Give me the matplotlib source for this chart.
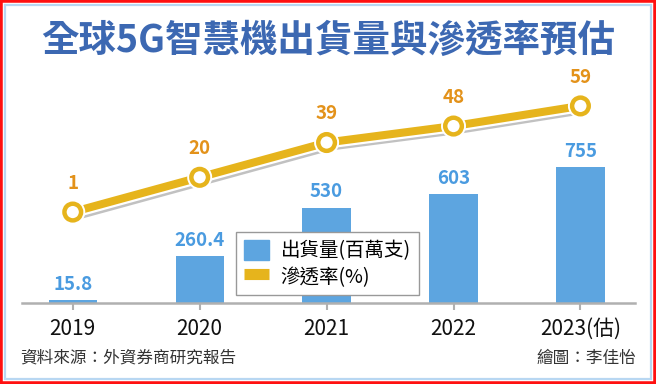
import matplotlib
matplotlib.use("Agg")
import matplotlib.pyplot as plt
import matplotlib.patches as mpatches
import matplotlib.patheffects as pe
from matplotlib.lines import Line2D
import numpy as np

plt.rcParams['font.family'] = ['Noto Sans CJK TC', 'DejaVu Sans']

# data
years     = ['2019', '2020', '2021', '2022', '2023(估)']
shipments = [15.8, 260.4, 530, 603, 755]        # 出貨量 (百萬支)
ship_lbl  = ['15.8', '260.4', '530', '603', '755']
penetr    = [1, 20, 39, 48, 59]                 # 滲透率 (%)

blue   = '#5da5e0'
blue_t = '#4a9be0'
gold   = '#e6b41c'
orange = '#e3921a'
title_c = '#3c68b2'

fig = plt.figure(figsize=(6.56, 3.84), dpi=100)
W, H = 656., 384.

# axes box in pixels: left 22, right 635, top 60, bottom 303
ax = fig.add_axes([22/W, 1-303/H, 613/W, 243/H])
x = np.arange(len(years))
ax.bar(x, shipments, width=0.38, color=blue, zorder=2)
ax.set_xlim(-0.40, 4.43)
ax.set_ylim(0, 1350)
for xi, v, s in zip(x, shipments, ship_lbl):
    ax.text(xi, v + 35, s, ha='center', va='bottom', fontsize=13.5,
            color=blue_t, fontweight='bold')

for sp in ['top', 'left', 'right']:
    ax.spines[sp].set_visible(False)
ax.spines['bottom'].set_color('#b0b0b0')
ax.spines['bottom'].set_linewidth(1.8)
ax.set_yticks([])
ax.set_xticks(x)
ax.set_xticklabels(years, fontsize=15, color='#111')
ax.tick_params(axis='x', length=5, width=1.5, color='#b0b0b0', pad=6)

# penetration line on twin axis
ax2 = ax.twinx()
ax2.set_ylim(-48.7, 84.1)
ax2.set_xlim(ax.get_xlim())
ax2.axis('off')
ax2.plot(x, penetr, color=gold, lw=5.8, solid_capstyle='round', zorder=3,
         path_effects=[pe.SimpleLineShadow(offset=(2, -3), shadow_color='#777', alpha=0.45),
                       pe.Stroke(linewidth=9, foreground='white'), pe.Normal()])
ax2.plot(x, penetr, 'o', ls='none', ms=12, mfc='white', mec=gold, mew=3.2, zorder=4,
         path_effects=[pe.Stroke(linewidth=6, foreground='white'), pe.Normal()])
for xi, v in zip(x, penetr):
    ax2.text(xi, v + 10.5, str(v), ha='center', va='bottom', fontsize=13.5,
             color=orange, fontweight='bold')

# legend
handles = [mpatches.Patch(color=blue),
           Line2D([], [], color=gold, lw=8, solid_capstyle='butt')]
leg = fig.legend(handles, ['出貨量(百萬支)', '滲透率(%)'], loc='upper left',
                 bbox_to_anchor=(236/W, 1-232/H), fontsize=14, frameon=True,
                 fancybox=False, edgecolor='#999999', framealpha=1,
                 handlelength=1.3, handleheight=1.2, handletextpad=0.6,
                 labelspacing=0.25, borderpad=0.4, borderaxespad=0)
leg.get_frame().set_linewidth(1.0)

# title and footer
fig.text(0.5, 1-40/H, '全球5G智慧機出貨量與滲透率預估', ha='center', va='center',
         fontsize=27, color=title_c, fontweight='semibold')
fig.text(20/W, 1-358/H, '資料來源：外資券商研究報告', ha='left', va='center',
         fontsize=12, color='#333')
fig.text(636/W, 1-358/H, '繪圖：李佳怡', ha='right', va='center',
         fontsize=12, color='#333')

# frames
fig.patches.append(mpatches.Rectangle((0, 0), 1, 1, transform=fig.transFigure,
                                      fill=False, edgecolor='#ff1010', lw=4))
fig.patches.append(mpatches.Rectangle((5/W, 5/H), 1-10/W, 1-10/H, transform=fig.transFigure,
                                      fill=False, edgecolor='#b8d7f2', lw=1.6))

fig.savefig('out.png', dpi=100)
